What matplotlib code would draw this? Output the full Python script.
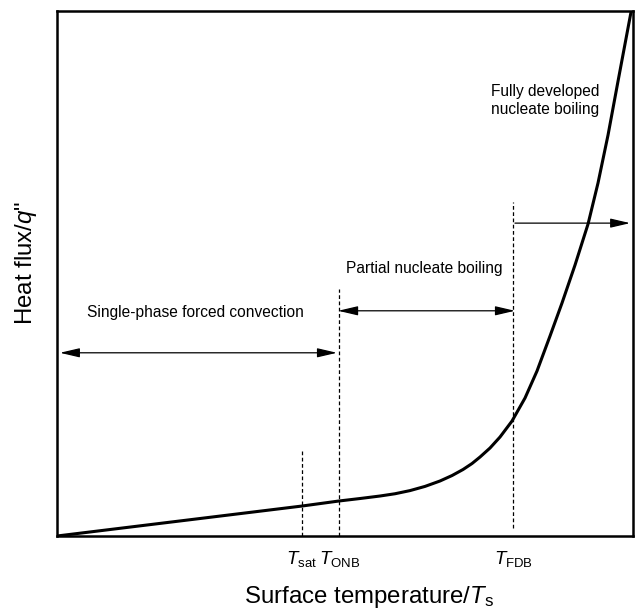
import matplotlib
matplotlib.use('Agg')
import matplotlib.pyplot as plt

# 字体：接近 Arial
plt.rcParams['font.family'] = ['Liberation Sans', 'DejaVu Sans']
plt.rcParams['mathtext.fontset'] = 'custom'
plt.rcParams['mathtext.rm'] = 'Liberation Sans'
plt.rcParams['mathtext.it'] = 'Liberation Sans:italic'

# 沸腾曲线（从图上读的点，横纵坐标 0~100）
surface_temp = [0, 42.53, 48.96, 52.60, 56.08, 58.68, 61.28, 63.89, 66.49,
                68.58, 70.49, 72.05, 73.44, 75.17, 76.91, 78.99, 81.25,
                83.33, 85.59, 87.67, 89.93, 92.19, 93.92, 95.66, 97.40, 99.65]
heat_flux = [0, 5.71, 6.67, 7.14, 7.62, 8.05, 8.65, 9.45, 10.48,
             11.52, 12.67, 13.81, 15.05, 16.76, 18.86, 21.90, 26.29,
             31.43, 38.10, 44.38, 51.62, 59.43, 67.24, 76.38, 86.67, 99.81]

# 特征温度
t_marks = [42.5, 49.0, 79.2]
t_labels = [r'$T_{\mathrm{sat}}$', r'$T_{\mathrm{ONB}}$', r'$T_{\mathrm{FDB}}$']
dash_bottom = [0, 0, 1.5]
dash_top = [16.6, 47.0, 63.6]

# 区域箭头
region_names = ['Single-phase forced convection', 'Partial nucleate boiling',
                'Fully developed\nnucleate boiling']
arrow_start = [0.5, 48.8, 79.5]
arrow_end = [48.6, 79.5, 99.5]
arrow_y = [34.9, 42.9, 59.6]
arrow_style = ['<|-|>', '<|-|>', '-|>']
text_x = [24.0, 63.7, 84.7]
text_y = [42.5, 51.0, 82.9]

fig = plt.figure(figsize=(6.35, 6.13), dpi=100)
ax = fig.add_axes([0.0898, 0.1256, 0.9071, 0.8564])

ax.plot(surface_temp, heat_flux, color='black', lw=2.2,
        solid_capstyle='round', solid_joinstyle='round')

for x, y0, y1 in zip(t_marks, dash_bottom, dash_top):
    ax.plot([x, x], [y0, y1], color='black', lw=0.9, ls=(0, (3, 2)))

for x0, x1, y, st in zip(arrow_start, arrow_end, arrow_y, arrow_style):
    ax.annotate('', xy=(x1, y), xytext=(x0, y),
                arrowprops=dict(arrowstyle=st + ',head_length=1.2,head_width=0.28',
                                color='black', lw=0.9, shrinkA=0, shrinkB=0,
                                mutation_scale=10))

for name, x, y in zip(region_names, text_x, text_y):
    ax.text(x, y, name, ha='center', va='center', fontsize=11.2,
            linespacing=1.25)

ax.set_xlim(0, 100)
ax.set_ylim(0, 100)
ax.set_xticks(t_marks)
ax.set_xticklabels(t_labels, fontsize=13.5)
ax.set_yticks([])
ax.tick_params(axis='x', length=0, pad=9)
for sp in ax.spines.values():
    sp.set_linewidth(1.8)

ax.set_xlabel(r'Surface temperature/$T_{\mathrm{s}}$', fontsize=17.3)
ax.xaxis.set_label_coords(0.541, -0.092)
ax.set_ylabel(r'Heat flux/$q$"', fontsize=17.3)
ax.yaxis.set_label_coords(-0.031, 0.52)

fig.savefig('out.png', dpi=100)
